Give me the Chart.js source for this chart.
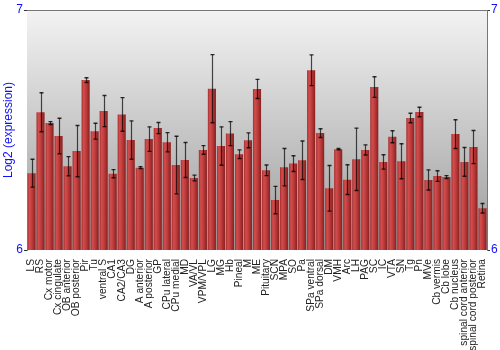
<!DOCTYPE html>
<html><head><meta charset="utf-8">
<script src="https://cdn.jsdelivr.net/npm/chart.js@4"></script>
<style>html,body{margin:0;padding:0;background:#fff}canvas{display:block}</style>
</head><body>
<canvas id="c" width="500" height="350"></canvas>
<script>
const categories = ["LS","RS","Cx motor","Cx cingulate","OB anterior","OB posterior","Pir","Tu","ventral S","CA1","CA2/CA3","DG","A anterior","A posterior","GP","CPu lateral","CPu medial","MD","VA/VL","VPM/VPL","LG","MG","Hb","Pineal","M","ME","Pituitary","SCN","MPA","SO","Pa","SPa ventral","SPa dorsal","DM","VMH","Arc","LH","PAG","SC","IC","VTA","SN","Tg","Pn","MVe","Cb vermis","Cb lobe","Cb nucleus","spinal cord anterior","spinal cord posterior","Retina"];
const values = [6.320,6.574,6.529,6.475,6.349,6.412,6.708,6.495,6.579,6.318,6.565,6.458,6.343,6.462,6.508,6.449,6.354,6.375,6.300,6.417,6.672,6.433,6.485,6.399,6.457,6.671,6.332,6.208,6.345,6.360,6.374,6.749,6.487,6.257,6.420,6.293,6.378,6.417,6.679,6.367,6.472,6.370,6.550,6.575,6.292,6.308,6.304,6.483,6.367,6.429,6.174];
const errors = [0.058,0.081,0.006,0.074,0.040,0.107,0.010,0.033,0.065,0.017,0.070,0.080,0.004,0.051,0.023,0.040,0.120,0.073,0.012,0.018,0.142,0.080,0.050,0.018,0.031,0.040,0.022,0.057,0.078,0.033,0.080,0.064,0.018,0.095,0.003,0.062,0.130,0.021,0.043,0.030,0.025,0.073,0.020,0.020,0.042,0.022,0.006,0.060,0.060,0.069,0.020];
const yTicks = [6, 7];
const FONT = '"Liberation Sans", Arial, sans-serif';
const BLUE = '#1010ff';

const bgPlugin = {
  id: 'bg',
  beforeDatasetsDraw(chart) {
    const {ctx, chartArea: a} = chart;
    ctx.save();
    const g = ctx.createLinearGradient(0, a.top, 0, a.bottom);
    g.addColorStop(0, '#f3f3f3');
    g.addColorStop(1, '#9b9b9b');
    ctx.fillStyle = g;
    ctx.fillRect(a.left, a.top, a.right - a.left, a.bottom - a.top);
    ctx.strokeStyle = '#777';
    ctx.lineWidth = 1;
    ctx.beginPath();
    ctx.moveTo(a.left, a.top + 0.5);
    ctx.lineTo(a.right, a.top + 0.5);
    ctx.stroke();
    ctx.restore();
    const meta = chart.getDatasetMeta(0);
    meta.data.forEach(el => {
      const x0 = el.x - el.width / 2;
      const gr = ctx.createLinearGradient(x0, 0, x0 + el.width, 0);
      gr.addColorStop(0, '#a52e2e');
      gr.addColorStop(0.25, '#d24e4e');
      gr.addColorStop(0.55, '#c03c3c');
      gr.addColorStop(1, '#862020');
      el.options.backgroundColor = gr;
    });
  }
};

const errPlugin = {
  id: 'err',
  afterDatasetsDraw(chart) {
    const {ctx} = chart;
    const ys = chart.scales.y;
    const meta = chart.getDatasetMeta(0);
    ctx.save();
    meta.data.forEach((el, i) => {
      const x = Math.round(el.x) + 0.5;
      const t = ys.getPixelForValue(values[i] + errors[i]);
      const b = ys.getPixelForValue(values[i] - errors[i]);
      ctx.strokeStyle = 'rgba(0,0,0,0.7)';
      ctx.lineWidth = 1.2;
      ctx.beginPath();
      ctx.moveTo(x, t); ctx.lineTo(x, b);
      ctx.stroke();
      ctx.lineWidth = 1.4;
      ctx.strokeStyle = 'rgba(0,0,0,0.8)';
      ctx.beginPath();
      ctx.moveTo(x - 2, t); ctx.lineTo(x + 2, t);
      ctx.moveTo(x - 2, b); ctx.lineTo(x + 2, b);
      ctx.stroke();
    });
    ctx.restore();
  }
};

new Chart(document.getElementById('c'), {
  type: 'bar',
  data: {
    labels: categories,
    datasets: [{
      data: values,
      backgroundColor: () => '#c03c3c',
      borderWidth: 0,
      barPercentage: 0.9,
      categoryPercentage: 1.0
    }]
  },
  options: {
    responsive: false,
    animation: false,
    layout: {padding: {top: 10, left: 0, right: 0, bottom: 0}},
    plugins: {legend: {display: false}, tooltip: {enabled: false}},
    scales: {
      x: {
        grid: {display: false},
        border: {display: false},
        ticks: {
          autoSkip: false, maxRotation: 90, minRotation: 90, padding: 1,
          color: '#222', font: {family: FONT, size: 10.2}
        },
        afterFit(s) { s.height = 100; }
      },
      y: {
        position: 'left', min: 6, max: 7,
        afterBuildTicks(s) { s.ticks = yTicks.map(v => ({value: v})); },
        ticks: {color: BLUE, font: {family: FONT, size: 12}, padding: 1},
        grid: {drawOnChartArea: false, tickLength: 3, color: '#333'},
        border: {color: '#777'},
        title: {display: true, text: 'Log2 (expression)', color: BLUE, font: {family: FONT, size: 12}, padding: {top: 1, bottom: 0}},
        afterFit(s) { s.width = 27; }
      },
      y2: {
        position: 'right', min: 6, max: 7,
        afterBuildTicks(s) { s.ticks = yTicks.map(v => ({value: v})); },
        ticks: {color: BLUE, font: {family: FONT, size: 12}, padding: 1},
        grid: {drawOnChartArea: false, tickLength: 3, color: '#333'},
        border: {color: '#777'},
        afterFit(s) { s.width = 13; }
      }
    }
  },
  plugins: [bgPlugin, errPlugin]
});
</script>
</body></html>
